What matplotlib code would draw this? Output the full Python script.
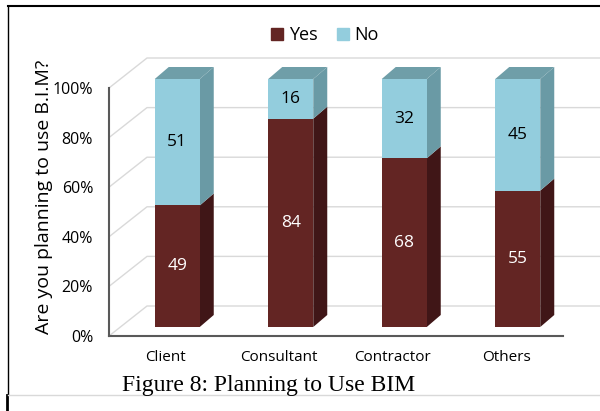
import matplotlib.pyplot as plt
from matplotlib.patches import Polygon, Patch
import numpy as np

plt.rcParams["font.family"] = "Open Sans"

# =====================
# data
# =====================
categories = ["Client", "Consultant", "Contractor", "Others"]
yes_vals = [49, 84, 68, 55]
no_vals = [51, 16, 32, 45]
yticks = [0, 20, 40, 60, 80, 100]
ytick_labels = ["0%", "20%", "40%", "60%", "80%", "100%"]

# colors
YES_FRONT = "#632523"
YES_SIDE = "#401617"
NO_FRONT = "#93CDDD"
NO_SIDE = "#6A9AA5"
NO_TOP = "#6F9EA8"
GRID = "#D9D9D9"
AXIS = "#595959"

W, H = 600, 411
fig = plt.figure(figsize=(W / 100, H / 100), dpi=100)

# front plane of the 3D chart (pixels)
x0, x1 = 109, 563
y0, y1 = 336, 88
ax = fig.add_axes([x0 / W, (H - y0) / H, (x1 - x0) / W, (y0 - y1) / H])
ax.set_xlim(-0.5, 3.5)
ax.set_ylim(0, 100)

# pixel -> data unit helpers
px_x = 4.0 / (x1 - x0)
px_y = 100.0 / (y0 - y1)

# back wall gridlines (side wall diagonal + back horizontal)
wall_dx, wall_dy = 38 * px_x, 30 * px_y
right_edge = -0.5 + (W - x0) * px_x
for v in yticks:
    ax.plot([-0.5, -0.5 + wall_dx, right_edge], [v, v + wall_dy, v + wall_dy],
            color=GRID, lw=1.0, clip_on=False, zorder=1)

# axis lines
ax.plot([-0.5, -0.5], [0, 100], color=AXIS, lw=1.5, clip_on=False, zorder=2)
ax.plot([-0.5, 3.5], [0, 0], color=AXIS, lw=1.5, clip_on=False, zorder=2)

# bars
bar_w = 45 * px_x
shift_x, shift_y = 11.5 * px_x, 9 * px_y
dep_x, dep_y = 14 * px_x, 12 * px_y


def draw_box(xc, b, t, front, side, top=None):
    l = xc - bar_w / 2 + shift_x
    r = xc + bar_w / 2 + shift_x
    b2, t2 = b + shift_y, t + shift_y
    ax.add_patch(Polygon([[r, b2], [r + dep_x, b2 + dep_y], [r + dep_x, t2 + dep_y], [r, t2]],
                         closed=True, fc=side, ec="none", zorder=3, clip_on=False))
    ax.add_patch(Polygon([[l, b2], [r, b2], [r, t2], [l, t2]],
                         closed=True, fc=front, ec="none", zorder=4, clip_on=False))
    if top is not None:
        ax.add_patch(Polygon([[l, t2], [r, t2], [r + dep_x, t2 + dep_y], [l + dep_x, t2 + dep_y]],
                             closed=True, fc=top, ec="none", zorder=4, clip_on=False))
    return (l + r) / 2


for i, (y, n) in enumerate(zip(yes_vals, no_vals)):
    cx = draw_box(i, 0, y, YES_FRONT, YES_SIDE)
    draw_box(i, y, y + n, NO_FRONT, NO_SIDE, NO_TOP)
    ax.text(cx, y / 2 + shift_y, str(y), color="white", ha="center", va="center",
            fontsize=12.5, zorder=5)
    ax.text(cx, y + n / 2 + shift_y, str(n), color="black", ha="center", va="center",
            fontsize=12.5, zorder=5)

ax.set_xticks(range(len(categories)))
ax.set_xticklabels(categories, fontsize=11)
ax.set_yticks(yticks)
ax.set_yticklabels(ytick_labels, fontsize=11.5)
ax.tick_params(axis="y", length=0, pad=11.5)
ax.tick_params(axis="x", length=0, pad=10)
for s in ax.spines.values():
    s.set_visible(False)
ax.patch.set_alpha(0)
ax.set_ylabel("Are you planning to use B.I.M?", fontsize=14)
ax.yaxis.set_label_coords(-(x0 - 53) / (x1 - x0), (y0 - 197) / (y0 - y1))

fig.legend(handles=[Patch(color=YES_FRONT, label="Yes"), Patch(color=NO_FRONT, label="No")],
           loc="center", bbox_to_anchor=(325 / W, 1 - 35 / H), ncol=2, frameon=False,
           fontsize=13, handlelength=0.65, handleheight=0.65, handletextpad=0.3, columnspacing=1.1)

# frame around chart + caption
fig.add_artist(plt.Line2D([8 / W, 1], [1 - 6 / H, 1 - 6 / H], color="black", lw=1.5))
fig.add_artist(plt.Line2D([8 / W, 8 / W], [1 - 6 / H, 1 - 395 / H], color="black", lw=1))
fig.add_artist(plt.Line2D([7 / W, 7 / W], [1 - 395 / H, 0], color="black", lw=2))
fig.add_artist(plt.Line2D([8 / W, 1], [1 - 395 / H, 1 - 395 / H], color="#D9D9D9", lw=1))
fig.text(269 / W, 1 - 385 / H, "Figure 8: Planning to Use BIM", ha="center", va="center",
         fontsize=17, family="Liberation Serif")

fig.savefig("out.png", dpi=100)
